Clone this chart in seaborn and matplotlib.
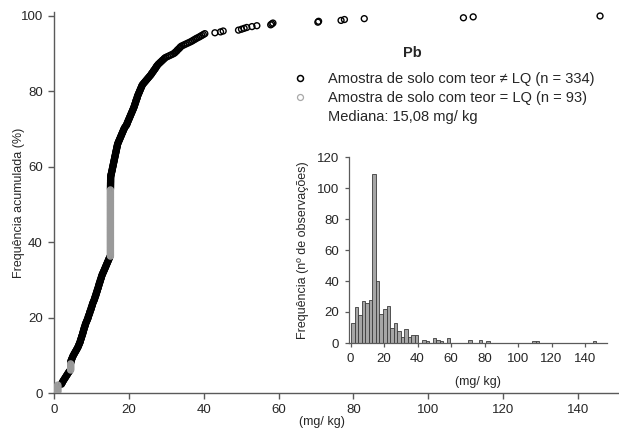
import numpy as np
import pandas as pd
import matplotlib
matplotlib.use("Agg")
import matplotlib.pyplot as plt
from matplotlib.lines import Line2D
import seaborn as sns

# Pb content (mg/kg) of the soil samples quantified above the LQ, sorted
teor_quantificado = [
    2.0, 2.1, 2.25, 2.35,
    2.5, 2.65, 2.8, 2.95, 3.1, 3.25, 3.4, 3.55, 3.7, 3.85, 4.0, 4.2, 4.48, 4.5, 4.52,
    4.6, 4.7, 4.8, 4.9, 5.0, 5.1, 5.2, 5.35, 5.5, 5.6, 5.75, 5.9, 6.0, 6.15, 6.3, 6.4, 6.5, 6.6,
    6.7, 6.8, 6.9, 7.0, 7.05, 7.1, 7.2, 7.3, 7.35, 7.4, 7.5, 7.6, 7.65, 7.7, 7.8, 7.85, 7.9,
    8.0, 8.05, 8.1, 8.2, 8.3, 8.35, 8.4, 8.5, 8.6, 8.7,
    8.8, 8.9, 9.0, 9.1, 9.15, 9.2, 9.3, 9.4, 9.5, 9.55, 9.6, 9.7, 9.8, 9.9, 9.95, 10.0, 10.1,
    10.2, 10.25, 10.3, 10.4, 10.5, 10.6, 10.7, 10.8, 10.85,
    10.95, 11.0, 11.1, 11.2, 11.25, 11.3, 11.4, 11.5, 11.55, 11.6, 11.7, 11.8, 11.85, 11.9,
    12.0, 12.05, 12.1, 12.2, 12.3, 12.35, 12.4, 12.5, 12.6, 12.65, 12.7, 12.8, 12.9, 12.95,
    13.1, 13.2, 13.3, 13.4, 13.5, 13.6, 13.7, 13.8, 13.9, 14.0, 14.1, 14.2, 14.3, 14.4, 14.5,
    14.6, 14.7, 14.8, 14.9,
    15.09, 15.09, 15.1, 15.1, 15.1, 15.11, 15.11, 15.11, 15.12, 15.12, 15.12, 15.13, 15.13, 15.13,
    15.15, 15.2, 15.22, 15.3, 15.35, 15.4, 15.45, 15.52, 15.55, 15.6, 15.65, 15.7, 15.76, 15.8,
    15.85, 15.9, 15.95, 16.0, 16.05, 16.1, 16.15, 16.2, 16.24, 16.3, 16.35, 16.4, 16.45, 16.5,
    16.55, 16.6, 16.65, 16.7, 16.75, 16.8, 16.85, 16.9, 16.95, 17.0, 17.1, 17.2,
    17.3, 17.4, 17.5, 17.6, 17.7, 17.8, 17.9, 18.0, 18.1, 18.2, 18.3, 18.4, 18.5, 18.6, 18.7,
    18.8, 18.95, 19.1, 19.3,
    19.45, 19.5, 19.6, 19.7, 19.8, 19.9, 20.0, 20.1, 20.2, 20.3, 20.4, 20.5, 20.6, 20.7, 20.8,
    20.9, 21.0, 21.1, 21.2, 21.3, 21.4, 21.45,
    21.55, 21.6, 21.7, 21.8, 21.85, 21.9, 22.0, 22.1, 22.2, 22.25, 22.3, 22.4, 22.5, 22.6, 22.7,
    22.8, 22.9, 23.0, 23.1, 23.2, 23.3, 23.4, 23.5, 23.6,
    23.8, 24.0, 24.2, 24.4, 24.6, 24.8, 25.0, 25.2, 25.4, 25.6,
    25.8, 26.0, 26.1, 26.3, 26.5, 26.6, 26.8, 27.0, 27.1, 27.3, 27.4, 27.6, 27.8,
    28.0, 28.3, 28.5, 28.8, 29.0, 29.3, 29.5, 29.8,
    30.3, 30.8, 31.3, 31.8,
    32.2, 32.4, 32.7, 32.9, 33.1, 33.4, 33.6, 33.8, 34.1,
    34.6, 35.1, 35.6, 36.1,
    36.6, 37.0, 37.4, 37.8, 38.2,
    38.7, 39.1, 39.5, 39.9, 40.3,
    43.0, 44.5, 45.2, 49.3, 50.1, 50.8, 51.5, 52.9, 54.2, 57.9, 58.2, 58.5,
    70.5, 70.7, 76.7, 77.6, 82.9, 109.4, 112.0, 145.9,
]

# Samples reported at the quantification limit: LQ value and number of samples
lq_valores = [1.0, 4.45, 15.08]
lq_amostras = [9, 8, 76]

# Histogram classes (mg/kg)
classe_inicio = 0.3
classe_largura = 2.12
classe_fim = 146.58

eixo_x_ticks = [0, 20, 40, 60, 80, 100, 120, 140]
eixo_y_ticks = [0, 20, 40, 60, 80, 100]
hist_y_ticks = [0, 20, 40, 60, 80, 100, 120]

# ---- data table -----------------------------------------------------------
df = pd.DataFrame({
    "teor": list(teor_quantificado) + list(np.repeat(lq_valores, lq_amostras)),
    "lq": [False] * len(teor_quantificado) + [True] * int(sum(lq_amostras)),
})
df = df.sort_values("teor", kind="stable").reset_index(drop=True)
n_total = len(df)
df["freq_acum"] = (np.arange(1, n_total + 1) / n_total) * 100
n_quant = int((~df["lq"]).sum())
n_lq = int(df["lq"].sum())
mediana = float(np.median(df["teor"]))

# ---- style ----------------------------------------------------------------
sns.set_theme(style="white")
plt.rcParams["font.family"] = ["Liberation Sans", "DejaVu Sans"]
texto = "#262626"
eixo = "#5a5a5a"

W, H = 619, 430
fig = plt.figure(figsize=(W / 100, H / 100), dpi=100)
fig.patch.set_facecolor("white")

def fx(px):
    return px / W

def fy(py):
    return 1 - py / H

# ---- main cumulative frequency plot --------------------------------------
ax = fig.add_axes([fx(54), fy(393), fx(618) - fx(54), fy(12) - fy(393)])
ax.set_facecolor("white")
quant = df[~df["lq"]]
lq = df[df["lq"]]
sns.scatterplot(data=quant, x="teor", y="freq_acum", ax=ax, s=18, marker="o",
                facecolor="none", edgecolor="black", linewidth=1.0, legend=False, zorder=3)
sns.scatterplot(data=lq, x="teor", y="freq_acum", ax=ax, s=18, marker="o",
                facecolor="none", edgecolor="#9a9a9a", linewidth=1.0, legend=False, zorder=4)

ax.set_xlim(0, 150.7)
ax.set_ylim(0, 101.06)
ax.set_xticks(eixo_x_ticks)
ax.set_yticks(eixo_y_ticks)
ax.set_xlabel("")
ax.set_ylabel("")
for side in ["top", "right"]:
    ax.spines[side].set_visible(False)
for side in ["left", "bottom"]:
    ax.spines[side].set_color(eixo)
    ax.spines[side].set_linewidth(1.0)
ax.tick_params(axis="both", direction="out", length=4, width=1.0, color=eixo,
               labelsize=9.5, labelcolor=texto, pad=4)
ax.tick_params(left=True, bottom=True)
fig.text(fx(19), fy(203), "Frequência acumulada (%)", fontsize=9, color=texto,
         rotation=90, ha="center", va="center")
fig.text(fx(322), fy(422), "(mg/ kg)", fontsize=9, color=texto, ha="center", va="center")

# ---- legend block ---------------------------------------------------------
fig.text(fx(412), fy(53), "Pb", fontsize=10.5, fontweight="bold", color=texto,
         ha="center", va="center")
handles = [
    Line2D([], [], linestyle="none", marker="o", markersize=4.3, markerfacecolor="none",
           markeredgecolor="black", markeredgewidth=1.1),
    Line2D([], [], linestyle="none", marker="o", markersize=4.3, markerfacecolor="none",
           markeredgecolor="#a8a8a8", markeredgewidth=0.9),
    Line2D([], [], linestyle="none"),
]
labels = [
    f"Amostra de solo com teor \u2260 LQ (n = {n_quant})",
    f"Amostra de solo com teor = LQ (n = {n_lq})",
    "Mediana: " + f"{mediana:.2f}".replace(".", ",") + " mg/ kg",
]
leg = ax.legend(handles, labels, loc="upper left", bbox_to_anchor=(fx(293), fy(72)),
                bbox_transform=fig.transFigure, frameon=False, fontsize=10.5,
                handlelength=1.0, handletextpad=1.4, borderpad=0, borderaxespad=0,
                labelspacing=0.33)
for t in leg.get_texts():
    t.set_color(texto)

# ---- inset histogram ------------------------------------------------------
axh = fig.add_axes([fx(349), fy(343), fx(607) - fx(349), fy(157) - fy(343)])
axh.patch.set_alpha(0)
sns.histplot(data=df, x="teor", binwidth=classe_largura, binrange=(classe_inicio, classe_fim),
             color="#a6a6a6", edgecolor="#3c3c3c", linewidth=0.6, alpha=1, ax=axh)
axh.set_xlim(-0.9, 153.1)
axh.set_ylim(0, 120)
axh.set_xticks(eixo_x_ticks)
axh.set_yticks(hist_y_ticks)
axh.set_xlabel("")
axh.set_ylabel("Frequência (nº de observações)", fontsize=9, color=texto, labelpad=6)
for side in ["top", "right"]:
    axh.spines[side].set_visible(False)
for side in ["left", "bottom"]:
    axh.spines[side].set_color(eixo)
    axh.spines[side].set_linewidth(0.9)
axh.tick_params(axis="both", direction="out", length=3, width=0.9, color=eixo,
                labelsize=9.5, labelcolor=texto, pad=4)
axh.tick_params(left=True, bottom=True)
fig.text(fx(478), fy(382), "(mg/ kg)", fontsize=9, color=texto, ha="center", va="center")

fig.savefig("out.png", dpi=100, facecolor="white")
